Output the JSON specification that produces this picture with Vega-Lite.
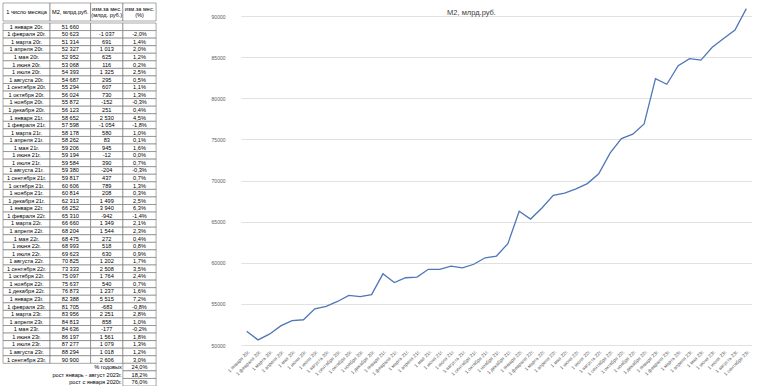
{
  "$schema": "https://vega.github.io/schema/vega-lite/v6.json",
  "background": "white",
  "padding": {"left": 2, "top": 2, "right": 0, "bottom": 0},
  "spacing": 42,
  "config": {
    "view": {"stroke": null},
    "font": "Liberation Sans",
    "text": {"fontSize": 5.6, "color": "black"},
    "locale": {"number": {"decimal": ",", "thousands": " ", "grouping": [3], "currency": ["", ""], "minus": "-"}}
  },
  "datasets": {
    "head": [{"c1": "1 число месяца", "c2": "M2, млрд.руб.", "c3a": "изм.за мес.", "c3b": "(млрд. руб.)", "c4a": "изм.за мес.", "c4b": "(%)"}],
    "t": [
      {"d": "1 января 20г.", "m2": 51660, "c": null, "p": null},
      {"d": "1 февраля 20г.", "m2": 50623, "c": -1037, "p": -0.020},
      {"d": "1 марта 20г.", "m2": 51314, "c": 691, "p": 0.014},
      {"d": "1 апреля 20г.", "m2": 52327, "c": 1013, "p": 0.020},
      {"d": "1 мая 20г.", "m2": 52952, "c": 625, "p": 0.012},
      {"d": "1 июня 20г.", "m2": 53068, "c": 116, "p": 0.002},
      {"d": "1 июля 20г.", "m2": 54393, "c": 1325, "p": 0.025},
      {"d": "1 августа 20г.", "m2": 54687, "c": 295, "p": 0.005},
      {"d": "1 сентября 20г.", "m2": 55294, "c": 607, "p": 0.011},
      {"d": "1 октября 20г.", "m2": 56024, "c": 730, "p": 0.013},
      {"d": "1 ноября 20г.", "m2": 55872, "c": -152, "p": -0.003},
      {"d": "1 декабря 20г.", "m2": 56123, "c": 251, "p": 0.004},
      {"d": "1 января 21г.", "m2": 58652, "c": 2530, "p": 0.045},
      {"d": "1 февраля 21г.", "m2": 57598, "c": -1054, "p": -0.018},
      {"d": "1 марта 21г.", "m2": 58178, "c": 580, "p": 0.010},
      {"d": "1 апреля 21г.", "m2": 58262, "c": 83, "p": 0.001},
      {"d": "1 мая 21г.", "m2": 59206, "c": 945, "p": 0.016},
      {"d": "1 июня 21г.", "m2": 59194, "c": -12, "p": 0.000},
      {"d": "1 июля 21г.", "m2": 59584, "c": 390, "p": 0.007},
      {"d": "1 августа 21г.", "m2": 59380, "c": -204, "p": -0.003},
      {"d": "1 сентября 21г.", "m2": 59817, "c": 437, "p": 0.007},
      {"d": "1 октября 21г.", "m2": 60606, "c": 789, "p": 0.013},
      {"d": "1 ноября 21г.", "m2": 60814, "c": 208, "p": 0.003},
      {"d": "1 декабря 21г.", "m2": 62313, "c": 1499, "p": 0.025},
      {"d": "1 января 22г.", "m2": 66252, "c": 3940, "p": 0.063},
      {"d": "1 февраля 22г.", "m2": 65310, "c": -942, "p": -0.014},
      {"d": "1 марта 22г.", "m2": 66660, "c": 1349, "p": 0.021},
      {"d": "1 апреля 22г.", "m2": 68204, "c": 1544, "p": 0.023},
      {"d": "1 мая 22г.", "m2": 68475, "c": 272, "p": 0.004},
      {"d": "1 июня 22г.", "m2": 68993, "c": 518, "p": 0.008},
      {"d": "1 июля 22г.", "m2": 69623, "c": 630, "p": 0.009},
      {"d": "1 августа 22г.", "m2": 70825, "c": 1202, "p": 0.017},
      {"d": "1 сентября 22г.", "m2": 73333, "c": 2508, "p": 0.035},
      {"d": "1 октября 22г.", "m2": 75097, "c": 1764, "p": 0.024},
      {"d": "1 ноября 22г.", "m2": 75637, "c": 540, "p": 0.007},
      {"d": "1 декабря 22г.", "m2": 76873, "c": 1237, "p": 0.016},
      {"d": "1 января 23г.", "m2": 82388, "c": 5515, "p": 0.072},
      {"d": "1 февраля 23г.", "m2": 81705, "c": -683, "p": -0.008},
      {"d": "1 марта 23г.", "m2": 83956, "c": 2251, "p": 0.028},
      {"d": "1 апреля 23г.", "m2": 84813, "c": 858, "p": 0.010},
      {"d": "1 мая 23г.", "m2": 84636, "c": -177, "p": -0.002},
      {"d": "1 июня 23г.", "m2": 86197, "c": 1561, "p": 0.018},
      {"d": "1 июля 23г.", "m2": 87277, "c": 1079, "p": 0.013},
      {"d": "1 августа 23г.", "m2": 88294, "c": 1018, "p": 0.012},
      {"d": "1 сентября 23г.", "m2": 90900, "c": 2606, "p": 0.030},
      {"d": "% годовых", "m2": null, "c": null, "p": 0.240, "kind": "foot"},
      {"d": "рост январь - август 2023г.", "m2": null, "c": null, "p": 0.182, "kind": "foot"},
      {"d": "рост с января 2020г.", "m2": null, "c": null, "p": 0.760, "kind": "foot"}
    ]
  },
  "hconcat": [
    {
      "spacing": 0,
      "vconcat": [
        {
          "width": 166,
          "height": 18,
          "data": {"name": "head"},
          "layer": [
            {"mark": {"type": "rect", "fill": "white", "stroke": "#6e6e6e", "strokeWidth": 0.6},
             "encoding": {"x": {"datum": 0, "type": "quantitative", "scale": {"domain": [0, 166]}, "axis": null}, "x2": {"datum": 51}}},
            {"mark": {"type": "rect", "fill": "white", "stroke": "#6e6e6e", "strokeWidth": 0.6},
             "encoding": {"x": {"datum": 51, "type": "quantitative"}, "x2": {"datum": 95}}},
            {"mark": {"type": "rect", "fill": "white", "stroke": "#6e6e6e", "strokeWidth": 0.6},
             "encoding": {"x": {"datum": 95, "type": "quantitative"}, "x2": {"datum": 130}}},
            {"mark": {"type": "rect", "fill": "white", "stroke": "#6e6e6e", "strokeWidth": 0.6},
             "encoding": {"x": {"datum": 130, "type": "quantitative"}, "x2": {"datum": 166}}},
            {"mark": {"type": "text"},
             "encoding": {"x": {"datum": 25.5, "type": "quantitative"}, "text": {"field": "c1"}}},
            {"mark": {"type": "text"},
             "encoding": {"x": {"datum": 73, "type": "quantitative"}, "text": {"field": "c2"}}},
            {"mark": {"type": "text", "dy": -3.3},
             "encoding": {"x": {"datum": 112.5, "type": "quantitative"}, "text": {"field": "c3a"}}},
            {"mark": {"type": "text", "dy": 3.3},
             "encoding": {"x": {"datum": 112.5, "type": "quantitative"}, "text": {"field": "c3b"}}},
            {"mark": {"type": "text", "dy": -3.3},
             "encoding": {"x": {"datum": 148, "type": "quantitative"}, "text": {"field": "c4a"}}},
            {"mark": {"type": "text", "dy": 3.3},
             "encoding": {"x": {"datum": 148, "type": "quantitative"}, "text": {"field": "c4b"}}}
          ]
        },
        {
          "width": 166,
          "height": 363,
          "data": {"name": "t"},
          "encoding": {
            "y": {"field": "d", "type": "nominal", "sort": null, "axis": null, "scale": {"paddingInner": 0, "paddingOuter": 0}}
          },
          "layer": [
            {"transform": [{"filter": "datum.m2 != null"}],
             "mark": {"type": "rect", "fill": "white", "stroke": "#6e6e6e", "strokeWidth": 0.6},
             "encoding": {"x": {"datum": 0, "type": "quantitative", "scale": {"domain": [0, 166]}, "axis": null}, "x2": {"datum": 51}}},
            {"transform": [{"filter": "datum.m2 != null"}],
             "mark": {"type": "rect", "fill": "white", "stroke": "#6e6e6e", "strokeWidth": 0.6},
             "encoding": {"x": {"datum": 51, "type": "quantitative"}, "x2": {"datum": 95}}},
            {"transform": [{"filter": "datum.m2 != null"}],
             "mark": {"type": "rect", "fill": "white", "stroke": "#6e6e6e", "strokeWidth": 0.6},
             "encoding": {"x": {"datum": 95, "type": "quantitative"}, "x2": {"datum": 130}}},
            {"mark": {"type": "rect", "fill": "white", "stroke": "#6e6e6e", "strokeWidth": 0.6},
             "encoding": {"x": {"datum": 130, "type": "quantitative"}, "x2": {"datum": 166}}},
            {"transform": [{"filter": "datum.m2 != null"}],
             "mark": {"type": "text"},
             "encoding": {"x": {"datum": 25.5, "type": "quantitative"}, "text": {"field": "d"}}},
            {"transform": [{"filter": "datum.m2 != null"}],
             "mark": {"type": "text"},
             "encoding": {"x": {"datum": 73, "type": "quantitative"}, "text": {"field": "m2", "type": "quantitative", "format": ",d"}}},
            {"transform": [{"filter": "isValid(datum.c)"}],
             "mark": {"type": "text"},
             "encoding": {"x": {"datum": 112.5, "type": "quantitative"}, "text": {"field": "c", "type": "quantitative", "format": ",d"}}},
            {"transform": [{"filter": "isValid(datum.p)"}],
             "mark": {"type": "text"},
             "encoding": {"x": {"datum": 148, "type": "quantitative"}, "text": {"field": "p", "type": "quantitative", "format": ".1%"}}},
            {"transform": [{"filter": "datum.kind == 'foot'"}],
             "mark": {"type": "text", "align": "right", "dx": -1},
             "encoding": {"x": {"datum": 130, "type": "quantitative"}, "text": {"field": "d"}}}
          ]
        }
      ]
    },
    {
      "width": 511,
      "height": 342,
      "data": {"name": "t"},
      "transform": [{"filter": "datum.m2 != null"}],
      "title": {"text": "M2, млрд.руб.", "fontSize": 7.5, "fontWeight": "normal", "color": "#404040", "frame": "group", "anchor": "middle", "dx": -25, "offset": -13},
      "mark": {"type": "line", "color": "#4f76b8", "strokeWidth": 1.3},
      "encoding": {
        "x": {"field": "d", "type": "ordinal", "sort": null,
              "scale": {"type": "point", "padding": 0.5},
              "axis": {"title": null, "labelAngle": -45, "labelFontSize": 4.8, "labelColor": "#595959", "domain": false, "ticks": false, "labelOverlap": false, "labelPadding": 4, "grid": false}},
        "y": {"field": "m2", "type": "quantitative",
              "scale": {"domain": [50000, 91581], "nice": false, "zero": false},
              "axis": {"title": null, "values": [50000, 55000, 60000, 65000, 70000, 75000, 80000, 85000, 90000], "format": "d", "labelFontSize": 5, "labelColor": "#595959", "domain": false, "ticks": false, "tickSize": 0, "labelPadding": 16, "gridColor": "#d9d9d9", "gridWidth": 0.8}}
      }
    }
  ]
}
